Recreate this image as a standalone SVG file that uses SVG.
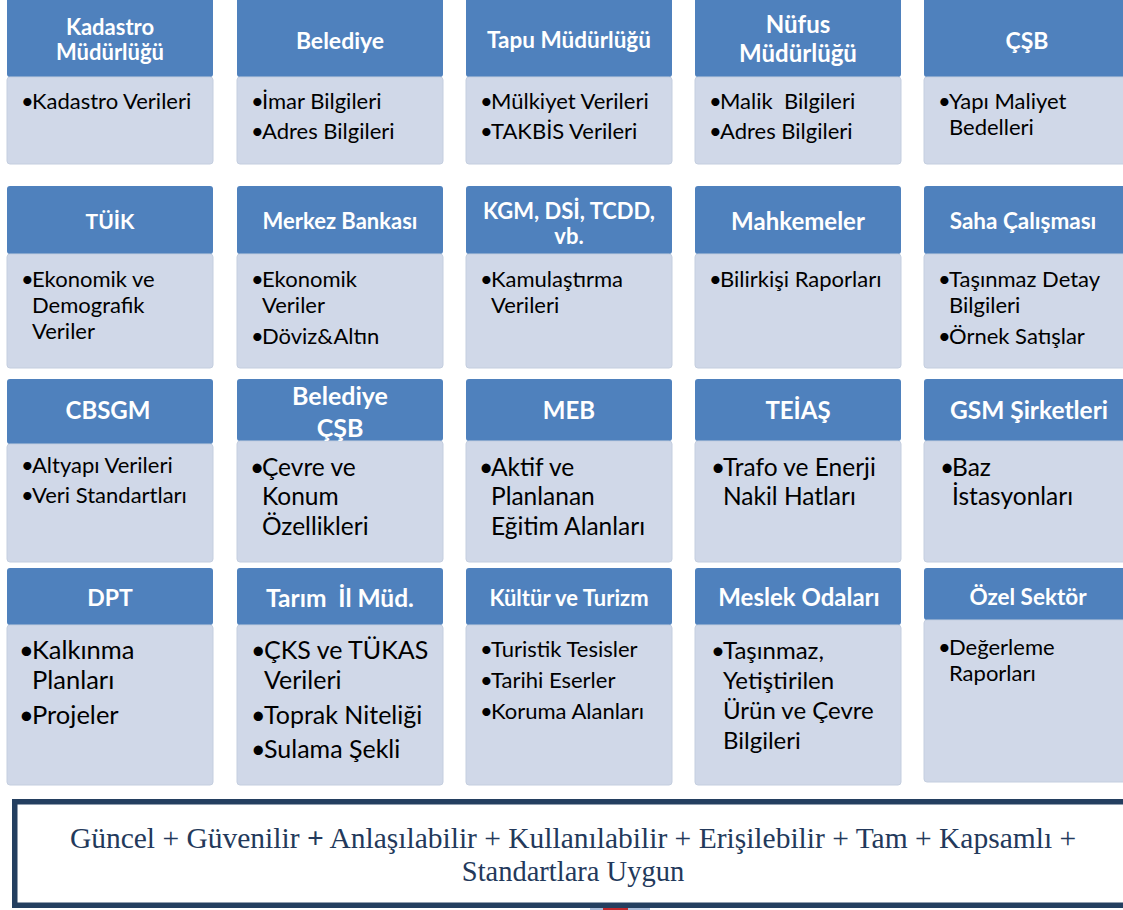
<svg xmlns="http://www.w3.org/2000/svg" width="1123" height="910" viewBox="0 0 1123 910">
<style>
.hd{fill:#4F81BD}
.bd{fill:#D0D8E8;stroke:#C4CEDF;stroke-width:1}
.ht{font-family:Lato,"Liberation Sans",sans-serif;font-weight:700;fill:#FFFFFF;text-anchor:middle}
.bt{font-family:Lato,"Liberation Sans",sans-serif;fill:#000000}
.ft{font-family:"Liberation Serif","Times New Roman",serif;fill:#23395B;text-anchor:middle}
</style>
<rect width="1123" height="910" fill="#FFFFFF"/>

<!-- Row 1 -->
<g id="kadastro">
<rect class="hd" x="7" y="-4" width="206" height="81" rx="3"/>
<rect class="bd" x="7" y="77" width="206" height="87" rx="3"/>
<text class="ht" font-size="22" x="110" y="35">Kadastro</text>
<text class="ht" font-size="22" x="110" y="60">Müdürlüğü</text>
<text class="bt" font-size="22" x="21" y="109">•</text><text class="bt" font-size="22" x="32" y="109">Kadastro Verileri</text>
</g>
<g id="belediye">
<rect class="hd" x="237" y="-4" width="206" height="81" rx="3"/>
<rect class="bd" x="237" y="77" width="206" height="87" rx="3"/>
<text class="ht" font-size="23" x="340" y="49">Belediye</text>
<text class="bt" font-size="22" x="251" y="109">•</text><text class="bt" font-size="22" x="262" y="109">İmar Bilgileri</text>
<text class="bt" font-size="22" x="251" y="139">•</text><text class="bt" font-size="22" x="262" y="139">Adres Bilgileri</text>
</g>
<g id="tapu">
<rect class="hd" x="466" y="-4" width="206" height="81" rx="3"/>
<rect class="bd" x="466" y="77" width="206" height="87" rx="3"/>
<text class="ht" font-size="22.5" x="569" y="48">Tapu Müdürlüğü</text>
<text class="bt" font-size="22" x="480" y="109">•</text><text class="bt" font-size="22" x="491" y="109">Mülkiyet Verileri</text>
<text class="bt" font-size="22" x="480" y="139">•</text><text class="bt" font-size="22" x="491" y="139">TAKBİS Verileri</text>
</g>
<g id="nufus">
<rect class="hd" x="695" y="-4" width="206" height="81" rx="3"/>
<rect class="bd" x="695" y="77" width="206" height="87" rx="3"/>
<text class="ht" font-size="24" x="798" y="33">Nüfus</text>
<text class="ht" font-size="24" x="798" y="62">Müdürlüğü</text>
<text class="bt" font-size="22" x="709" y="109">•</text><text class="bt" font-size="22" x="720" y="109" xml:space="preserve">Malik  Bilgileri</text>
<text class="bt" font-size="22" x="709" y="139">•</text><text class="bt" font-size="22" x="720" y="139">Adres Bilgileri</text>
</g>
<g id="csb1">
<rect class="hd" x="924" y="-4" width="206" height="81" rx="3"/>
<rect class="bd" x="924" y="77" width="206" height="87" rx="3"/>
<text class="ht" font-size="23" x="1027" y="49">ÇŞB</text>
<text class="bt" font-size="22" x="938" y="109">•</text><text class="bt" font-size="22" x="949" y="109">Yapı Maliyet</text>
<text class="bt" font-size="22" x="949" y="135">Bedelleri</text>
</g>

<!-- Row 2 -->
<g id="tuik">
<rect class="hd" x="7" y="186" width="206" height="68" rx="3"/>
<rect class="bd" x="7" y="254" width="206" height="114" rx="3"/>
<text class="ht" font-size="21" x="110" y="229">TÜİK</text>
<text class="bt" font-size="22" x="21" y="287">•</text><text class="bt" font-size="22" x="32" y="287">Ekonomik ve</text>
<text class="bt" font-size="22" x="32" y="313">Demografik</text>
<text class="bt" font-size="22" x="32" y="339">Veriler</text>
</g>
<g id="merkez">
<rect class="hd" x="237" y="186" width="206" height="68" rx="3"/>
<rect class="bd" x="237" y="254" width="206" height="114" rx="3"/>
<text class="ht" font-size="22" x="340" y="229">Merkez Bankası</text>
<text class="bt" font-size="22" x="251" y="287">•</text><text class="bt" font-size="22" x="262" y="287">Ekonomik</text>
<text class="bt" font-size="22" x="262" y="313">Veriler</text>
<text class="bt" font-size="22" x="251" y="344">•</text><text class="bt" font-size="22" x="262" y="344">Döviz&amp;Altın</text>
</g>
<g id="kgm">
<rect class="hd" x="466" y="186" width="206" height="68" rx="3"/>
<rect class="bd" x="466" y="254" width="206" height="114" rx="3"/>
<text class="ht" font-size="22" x="569" y="219">KGM, DSİ, TCDD,</text>
<text class="ht" font-size="22" x="569" y="244">vb.</text>
<text class="bt" font-size="22" x="480" y="287">•</text><text class="bt" font-size="22" x="491" y="287">Kamulaştırma</text>
<text class="bt" font-size="22" x="491" y="313">Verileri</text>
</g>
<g id="mahkemeler">
<rect class="hd" x="695" y="186" width="206" height="68" rx="3"/>
<rect class="bd" x="695" y="254" width="206" height="114" rx="3"/>
<text class="ht" font-size="24" x="798" y="230">Mahkemeler</text>
<text class="bt" font-size="22" x="709" y="287">•</text><text class="bt" font-size="22" x="720" y="287">Bilirkişi Raporları</text>
</g>
<g id="saha">
<rect class="hd" x="924" y="186" width="206" height="68" rx="3"/>
<rect class="bd" x="924" y="254" width="206" height="114" rx="3"/>
<text class="ht" font-size="22.5" x="1023" y="229">Saha Çalışması</text>
<text class="bt" font-size="22" x="938" y="287">•</text><text class="bt" font-size="22" x="949" y="287">Taşınmaz Detay</text>
<text class="bt" font-size="22" x="949" y="313">Bilgileri</text>
<text class="bt" font-size="22" x="938" y="344">•</text><text class="bt" font-size="22" x="949" y="344">Örnek Satışlar</text>
</g>

<!-- Row 3 -->
<g id="cbsgm">
<rect class="hd" x="7" y="379" width="206" height="65" rx="3"/>
<rect class="bd" x="7" y="444" width="206" height="118" rx="3"/>
<text class="ht" font-size="24" x="108" y="419">CBSGM</text>
<text class="bt" font-size="22" x="21" y="473">•</text><text class="bt" font-size="22" x="32" y="473">Altyapı Verileri</text>
<text class="bt" font-size="22" x="21" y="503">•</text><text class="bt" font-size="22" x="32" y="503">Veri Standartları</text>
</g>
<g id="belediye-csb">
<rect class="hd" x="237" y="379" width="206" height="62" rx="3"/>
<text class="ht" font-size="25" x="340" y="405">Belediye</text>
<rect class="bd" x="237" y="441" width="206" height="121" rx="3"/>
<text class="ht" font-size="25" x="340" y="437">ÇŞB</text>
<text class="bt" font-size="24.5" x="250" y="476">•</text><text class="bt" font-size="24.5" x="262" y="476">Çevre ve</text>
<text class="bt" font-size="24.5" x="262" y="505">Konum</text>
<text class="bt" font-size="24.5" x="262" y="535">Özellikleri</text>
</g>
<g id="meb">
<rect class="hd" x="466" y="379" width="206" height="62" rx="3"/>
<rect class="bd" x="466" y="441" width="206" height="121" rx="3"/>
<text class="ht" font-size="24" x="569" y="419">MEB</text>
<text class="bt" font-size="24.5" x="479" y="476">•</text><text class="bt" font-size="24.5" x="491" y="476">Aktif ve</text>
<text class="bt" font-size="24.5" x="491" y="505">Planlanan</text>
<text class="bt" font-size="24.5" x="491" y="535">Eğitim Alanları</text>
</g>
<g id="teias">
<rect class="hd" x="695" y="379" width="206" height="62" rx="3"/>
<rect class="bd" x="695" y="441" width="206" height="121" rx="3"/>
<text class="ht" font-size="24" x="798" y="419">TEİAŞ</text>
<text class="bt" font-size="24.5" x="711" y="476">•</text><text class="bt" font-size="24.5" x="723" y="476">Trafo ve Enerji</text>
<text class="bt" font-size="24.5" x="723" y="505">Nakil Hatları</text>
</g>
<g id="gsm">
<rect class="hd" x="924" y="379" width="206" height="62" rx="3"/>
<rect class="bd" x="924" y="441" width="206" height="121" rx="3"/>
<text class="ht" font-size="24.5" x="1029" y="419">GSM Şirketleri</text>
<text class="bt" font-size="24.5" x="940" y="476">•</text><text class="bt" font-size="24.5" x="952" y="476">Baz</text>
<text class="bt" font-size="24.5" x="952" y="505">İstasyonları</text>
</g>

<!-- Row 4 -->
<g id="dpt">
<rect class="hd" x="7" y="568" width="206" height="57" rx="3"/>
<rect class="bd" x="7" y="625" width="206" height="160" rx="3"/>
<text class="ht" font-size="23" x="110" y="606">DPT</text>
<text class="bt" font-size="25.5" x="19" y="659">•</text><text class="bt" font-size="25.5" x="32" y="659">Kalkınma</text>
<text class="bt" font-size="25.5" x="32" y="689">Planları</text>
<text class="bt" font-size="25.5" x="19" y="724">•</text><text class="bt" font-size="25.5" x="32" y="724">Projeler</text>
</g>
<g id="tarim">
<rect class="hd" x="237" y="568" width="206" height="57" rx="3"/>
<rect class="bd" x="237" y="625" width="206" height="160" rx="3"/>
<text class="ht" font-size="24.5" x="340" y="607" xml:space="preserve">Tarım  İl Müd.</text>
<text class="bt" font-size="25" x="251" y="659">•</text><text class="bt" font-size="25" x="264" y="659">ÇKS ve TÜKAS</text>
<text class="bt" font-size="25" x="264" y="689">Verileri</text>
<text class="bt" font-size="25" x="251" y="724">•</text><text class="bt" font-size="25" x="264" y="724">Toprak Niteliği</text>
<text class="bt" font-size="25" x="251" y="758">•</text><text class="bt" font-size="25" x="264" y="758">Sulama Şekli</text>
</g>
<g id="kultur">
<rect class="hd" x="466" y="568" width="206" height="57" rx="3"/>
<rect class="bd" x="466" y="625" width="206" height="160" rx="3"/>
<text class="ht" font-size="22" x="569" y="606">Kültür ve Turizm</text>
<text class="bt" font-size="22" x="480" y="657">•</text><text class="bt" font-size="22" x="491" y="657">Turistik Tesisler</text>
<text class="bt" font-size="22" x="480" y="688">•</text><text class="bt" font-size="22" x="491" y="688">Tarihi Eserler</text>
<text class="bt" font-size="22" x="480" y="719">•</text><text class="bt" font-size="22" x="491" y="719">Koruma Alanları</text>
</g>
<g id="meslek">
<rect class="hd" x="695" y="568" width="206" height="57" rx="3"/>
<rect class="bd" x="695" y="625" width="206" height="160" rx="3"/>
<text class="ht" font-size="24" x="799" y="606">Meslek Odaları</text>
<text class="bt" font-size="24" x="711" y="659">•</text><text class="bt" font-size="24" x="723" y="659">Taşınmaz,</text>
<text class="bt" font-size="24" x="723" y="689">Yetiştirilen</text>
<text class="bt" font-size="24" x="723" y="719">Ürün ve Çevre</text>
<text class="bt" font-size="24" x="723" y="749">Bilgileri</text>
</g>
<g id="ozel">
<rect class="hd" x="924" y="568" width="206" height="52" rx="3"/>
<rect class="bd" x="924" y="620" width="206" height="162" rx="3"/>
<text class="ht" font-size="22.5" x="1028" y="605">Özel Sektör</text>
<text class="bt" font-size="22" x="938" y="655">•</text><text class="bt" font-size="22" x="949" y="655">Değerleme</text>
<text class="bt" font-size="22" x="949" y="681">Raporları</text>
</g>

<g id="connectors"></g>

<!-- Bottom summary box -->
<g id="summary">
<rect x="590" y="906" width="60" height="4" fill="#A9BCD8"/>
<rect x="603" y="906" width="25" height="4" fill="#C0282D"/>
<rect x="14.75" y="801.75" width="1120" height="103.5" fill="#FFFFFF" stroke="#243F60" stroke-width="5.5"/>
<text class="ft" font-size="29.5" x="573" y="848">Güncel + Güvenilir <tspan font-weight="700">+</tspan> Anlaşılabilir + Kullanılabilir + Erişilebilir + Tam + Kapsamlı +</text>
<text class="ft" font-size="28.5" x="573" y="881">Standartlara Uygun</text>
</g>
</svg>
